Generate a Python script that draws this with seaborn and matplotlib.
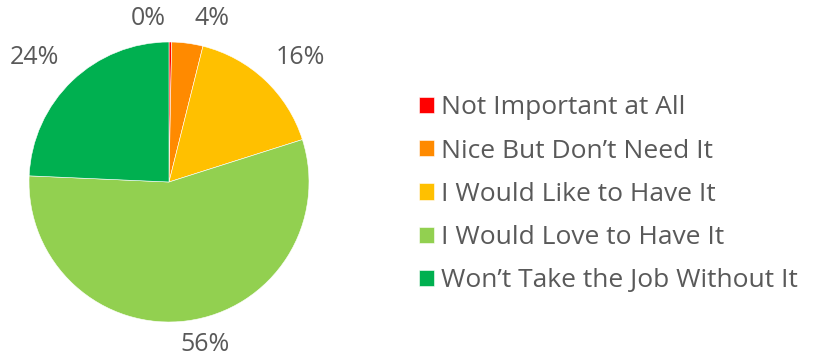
import numpy as np
import seaborn as sns
import matplotlib.pyplot as plt

categories = ["Not Important at All", "Nice But Don't Need It", "I Would Like to Have It",
              "I Would Love to Have It", "Won't Take the Job Without It"]
legend_labels = ["Not Important at All", "Nice But Don\u2019t Need It", "I Would Like to Have It",
                 "I Would Love to Have It", "Won\u2019t Take the Job Without It"]
shares = [0.3, 3.6, 16.2, 55.6, 24.3]
colors = ["#FF0000", "#FF8A00", "#FFC000", "#92D050", "#00B050"]

sns.set_theme(style="white")
plt.rcParams['font.family'] = ['Open Sans', 'DejaVu Sans']
text_color = "#595959"

fig = plt.figure(figsize=(8.3, 3.6), dpi=100)
ax = fig.add_axes([(169 - 140) / 830, (360 - 182 - 140) / 360, 280 / 830, 280 / 360])

wedges, _ = ax.pie(shares, colors=colors, startangle=90, counterclock=False,
                   radius=1.0, wedgeprops=dict(edgecolor="white", linewidth=0.4))
ax.set_xlim(-1, 1)
ax.set_ylim(-1, 1)
ax.set_aspect("equal")

# label placement (distance from center, angular nudge in degrees)
label_r = [1.18, 1.21, 1.29, 1.19, 1.31]
label_nudge = [7.8, -7.1, -3.4, 4.9, 3.3]
total = sum(shares)
for w, v, r, nd in zip(wedges, shares, label_r, label_nudge):
    mid = np.deg2rad((w.theta1 + w.theta2) / 2 + nd)
    ax.text(r * np.cos(mid), r * np.sin(mid), f"{round(v / total * 100):.0f}%",
            ha="center", va="center", fontsize=18, color=text_color, clip_on=False)

leg = fig.legend(wedges, legend_labels, loc="center left", bbox_to_anchor=(408 / 830, 0.46),
                 frameon=False, fontsize=19, handlelength=0.57, handleheight=0.57,
                 handletextpad=0.27, labelspacing=0.69, borderaxespad=0)
for t in leg.get_texts():
    t.set_color(text_color)

fig.savefig("out.png", dpi=100)
